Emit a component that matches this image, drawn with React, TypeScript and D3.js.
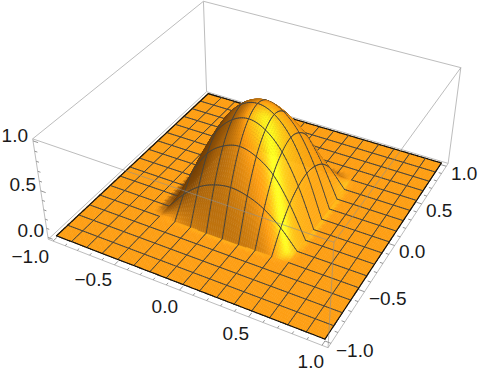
import React, { useMemo } from "react";
import * as d3 from "d3";

// mesh heights, on the 1/8 grid covering the central bump (|x|,|y| <= 0.5)
const humpHeights = [
  [0, 0, 0, 0, 0, 0, 0, 0, 0],
  [0, 0.19, 0.33, 0.41, 0.44, 0.41, 0.33, 0.19, 0],
  [0, 0.33, 0.58, 0.71, 0.76, 0.71, 0.58, 0.33, 0],
  [0, 0.41, 0.71, 0.88, 0.94, 0.88, 0.71, 0.41, 0],
  [0, 0.44, 0.76, 0.94, 1, 0.94, 0.76, 0.44, 0],
  [0, 0.41, 0.71, 0.88, 0.94, 0.88, 0.71, 0.41, 0],
  [0, 0.33, 0.58, 0.71, 0.76, 0.71, 0.58, 0.33, 0],
  [0, 0.19, 0.33, 0.41, 0.44, 0.41, 0.33, 0.19, 0],
  [0, 0, 0, 0, 0, 0, 0, 0, 0],
];
const xyMajorTicks = [-1, -0.5, 0, 0.5, 1];
const zMajorTicks = [0, 0.5, 1];
const xLabelsAt = [
  { t: "\u22121.0", x: 49, y: 263 },
  { t: "\u22120.5", x: 112, y: 286 },
  { t: "0.0", x: 178, y: 313 },
  { t: "0.5", x: 249, y: 340 },
  { t: "1.0", x: 324, y: 368 },
];
const yLabelsAt = [
  { t: "\u22121.0", x: 336, y: 357 },
  { t: "\u22120.5", x: 369, y: 305 },
  { t: "0.0", x: 399, y: 258 },
  { t: "0.5", x: 426, y: 217 },
  { t: "1.0", x: 451, y: 180 },
];
const zLabelsAt = [
  { t: "0.0", x: 44, y: 237 },
  { t: "0.5", x: 36, y: 191 },
  { t: "1.0", x: 28, y: 142 },
];

// camera calibration: box corners as seen on the page
const B = 1.04;
const Z0 = -0.02;
const Z1 = 1.02;
const calib: [number, number, number, number, number][] = [
  [-B, -B, Z0, 48, 239],
  [B, -B, Z0, 328, 348],
  [B, B, Z0, 448, 163],
  [-B, B, Z0, 207, 92],
  [-B, -B, Z1, 33, 139],
  [B, -B, Z1, 334, 242],
  [B, B, Z1, 461, 68],
  [-B, B, Z1, 203, 1],
];

function solveCamera(): number[] {
  const rows: number[][] = [];
  const rhs: number[] = [];
  for (const [x, y, z, u, v] of calib) {
    rows.push([x, y, z, 1, 0, 0, 0, 0, -u * x, -u * y, -u * z]);
    rhs.push(u);
    rows.push([0, 0, 0, 0, x, y, z, 1, -v * x, -v * y, -v * z]);
    rhs.push(v);
  }
  const n = 11;
  const M: number[][] = d3.range(n).map((i) =>
    d3.range(n + 1).map((j) =>
      j < n ? d3.sum(rows, (r) => r[i] * r[j]) : d3.sum(rows, (r, k) => r[i] * rhs[k])
    )
  );
  for (let c = 0; c < n; c++) {
    let p = c;
    for (let r = c + 1; r < n; r++) if (Math.abs(M[r][c]) > Math.abs(M[p][c])) p = r;
    [M[c], M[p]] = [M[p], M[c]];
    for (let r = 0; r < n; r++) {
      if (r === c) continue;
      const f = M[r][c] / M[c][c];
      for (let k = c; k <= n; k++) M[r][k] -= f * M[c][k];
    }
  }
  return d3.range(n).map((i) => M[i][n] / M[i][i]);
}
const P = solveCamera();
const project = (x: number, y: number, z: number): [number, number] => {
  const w = P[8] * x + P[9] * y + P[10] * z + 1;
  return [
    (P[0] * x + P[1] * y + P[2] * z + P[3]) / w,
    (P[4] * x + P[5] * y + P[6] * z + P[7]) / w,
  ];
};

// view basis, in box-ratio coordinates
const V = [0.383, -0.708, 0.59];
const R = [0.877, 0.474, 0];
const U = [-0.28, 0.518, 0.807];
const dot = (a: number[], b: number[]) => a[0] * b[0] + a[1] * b[1] + a[2] * b[2];
const depth = (x: number, y: number, z: number) => dot(V, [x / 2, y / 2, 0.4 * z]);

const cr = (a: number, b: number, c: number, d: number, t: number) =>
  0.5 * (2 * b + (c - a) * t + (2 * a - 5 * b + 4 * c - d) * t * t + (3 * b - a - 3 * c + d) * t * t * t);
const node = (i: number, j: number): number => {
  if (i < 0) return -node(-i, j);
  if (i > 8) return -node(16 - i, j);
  if (j < 0) return -node(i, -j);
  if (j > 8) return -node(i, 16 - j);
  return humpHeights[i][j];
};
const cellOf = d3.scaleLinear().domain([-0.5, 0.5]).range([0, 8]);
function height(x: number, y: number): number {
  if (Math.abs(x) >= 0.5 || Math.abs(y) >= 0.5) return 0;
  const u = cellOf(x);
  const v = cellOf(y);
  const i = Math.min(7, Math.floor(u));
  const j = Math.min(7, Math.floor(v));
  const t = u - i;
  const s = v - j;
  const col = [-1, 0, 1, 2].map((di) =>
    cr(node(i + di, j - 1), node(i + di, j), node(i + di, j + 1), node(i + di, j + 2), s)
  );
  return cr(col[0], col[1], col[2], col[3], t);
}

const norm = (a: number[]) => {
  const l = Math.hypot(a[0], a[1], a[2]);
  return a.map((c) => c / l);
};
const L1 = norm([1.5, -0.5, 2]);
const L2 = norm([1.5, 1.5, 2]);
const L3 = norm([-0.5, 1.5, 2]);
const H1 = norm([L1[0], L1[1], L1[2] + 1]);
const H2 = norm([L2[0], L2[1], L2[2] + 1]);
const H3 = norm([L3[0], L3[1], L3[2] + 1]);

const clampIn = (v: number) => Math.max(-0.49, Math.min(0.49, v));
function slopes(x: number, y: number): [number, number] {
  const h = 0.006;
  const cx = clampIn(x), cy = clampIn(y);
  const zx = (height(cx + h, cy) - height(cx - h, cy)) / (2 * h);
  const zy = (height(cx, cy + h) - height(cx, cy - h)) / (2 * h);
  return [zx, zy];
}
function shade(x: number, y: number): string {
  let [zx, zy] = slopes(x, y);
  const dx = Math.abs(x) - 0.5;
  const dy = Math.abs(y) - 0.5;
  const d = Math.max(dx, dy);
  if (d >= 0) {
    // the flat sheet picks up the bump's shading in a frayed rim just outside its foot
    const darkSide = (dx > dy && x < 0) || (dy >= dx && y > 0);
    const along = dx > dy ? y : x;
    const fray = Math.abs(((along * 24) % 1 + 1) % 1 - 0.5) * 2;
    const w = (darkSide ? 0.05 : 0.032) + 0.022 * fray;
    const t = d < w ? (darkSide ? 0.55 : 0.15) * (1 - (d / w) * (d / w)) : 0;
    zx *= t;
    zy *= t;
  }
  const n = norm([-0.8 * zx, -0.8 * zy, 1]);
  const nv = [dot(R, n), dot(U, n), dot(V, n)];
  const D =
    0.28 +
    0.42 * Math.max(0, dot(nv, L1)) +
    0.37 * Math.max(0, dot(nv, L2)) +
    0.3 * Math.max(0, dot(nv, L3));
  const sp =
    0.5 * Math.pow(Math.max(0, dot(nv, H1)), 30) +
    0.28 * Math.pow(Math.max(0, dot(nv, H2)), 30) +
    0.18 * Math.pow(Math.max(0, dot(nv, H3)), 30);
  const r = D * 1.0 + sp;
  const g = Math.pow(D, 1.15) * 0.625 + sp * 0.55;
  const b = Math.pow(D, 1.3) * 0.075 + sp * 0.1;
  const c = (v: number) => Math.round(255 * Math.min(1, Math.max(0, v)));
  return `rgb(${c(r)},${c(g)},${c(b)})`;
}

const SUB = 8;
const fine = d3.scaleLinear().domain([0, 16 * SUB]).range([-1, 1]);

type Item = { d: string; key: number; fill?: string; stroke?: string; w?: number };
const seg = (pts: [number, number, number][]) => {
  const p = d3.path();
  pts.forEach((q, i) => {
    const [a, b] = project(q[0], q[1], q[2]);
    if (i === 0) p.moveTo(a, b);
    else p.lineTo(a, b);
  });
  return p;
};
const onFoot = (line: number, mid: number) => Math.abs(Math.abs(line) - 0.5) < 1e-6 && Math.abs(mid) < 0.5;

function buildSurface(): Item[] {
  const items: Item[] = [];
  const N = 16 * SUB;
  for (let i = 0; i < N; i++) {
    for (let j = 0; j < N; j++) {
      const x0 = fine(i), x1 = fine(i + 1), y0 = fine(j), y1 = fine(j + 1);
      const p = seg([
        [x0, y0, height(x0, y0)],
        [x1, y0, height(x1, y0)],
        [x1, y1, height(x1, y1)],
        [x0, y1, height(x0, y1)],
      ]);
      p.closePath();
      const mx = (x0 + x1) / 2, my = (y0 + y1) / 2;
      const col = shade(mx, my);
      items.push({ d: p.toString(), key: depth(mx, my, height(mx, my)), fill: col, stroke: col, w: 0.6 });
      if (i % SUB === 0 && !onFoot(x0, my)) {
        const edge = i === 0;
        items.push({
          d: seg([[x0, y0, height(x0, y0)], [x0, y1, height(x0, y1)]]).toString(),
          key: depth(x0, my, height(x0, my)) + 0.012,
          stroke: edge ? "#111" : "#47433c",
          w: edge ? 1.1 : 0.95,
        });
      }
      if (j % SUB === 0 && !onFoot(y0, mx)) {
        const edge = j === 0;
        items.push({
          d: seg([[x0, y0, height(x0, y0)], [x1, y0, height(x1, y0)]]).toString(),
          key: depth(mx, y0, height(mx, y0)) + 0.012,
          stroke: edge ? "#111" : "#47433c",
          w: edge ? 1.1 : 0.95,
        });
      }
      if (i === N - 1) {
        items.push({
          d: seg([[x1, y0, height(x1, y0)], [x1, y1, height(x1, y1)]]).toString(),
          key: depth(x1, my, 0) + 0.012,
          stroke: "#111",
          w: 1.1,
        });
      }
      if (j === N - 1) {
        items.push({
          d: seg([[x0, y1, height(x0, y1)], [x1, y1, height(x1, y1)]]).toString(),
          key: depth(mx, y1, 0) + 0.012,
          stroke: "#111",
          w: 1.1,
        });
      }
    }
  }
  items.sort((a, b) => a.key - b.key);
  return items;
}

const line3 = (a: [number, number, number], b: [number, number, number]) => seg([a, b]).toString();

export default function App() {
  const surface = useMemo(buildSurface, []);
  const A = [-B, -B], Bb = [B, -B], C = [B, B], D = [-B, B];
  const backEdges = [
    line3([D[0], D[1], Z0], [D[0], D[1], Z1]),
    line3([D[0], D[1], Z1], [A[0], A[1], Z1]),
    line3([D[0], D[1], Z1], [C[0], C[1], Z1]),
    line3([A[0], A[1], Z0], [D[0], D[1], Z0]),
    line3([D[0], D[1], Z0], [C[0], C[1], Z0]),
    line3([C[0], C[1], Z0], [C[0], C[1], Z1]),
    line3([A[0], A[1], Z0], [A[0], A[1], Z1]),
    line3([A[0], A[1], Z0], [Bb[0], Bb[1], Z0]),
    line3([Bb[0], Bb[1], Z0], [C[0], C[1], Z0]),
  ];
  const frontEdges = [
    line3([A[0], A[1], Z1], [Bb[0], Bb[1], Z1]),
    line3([Bb[0], Bb[1], Z1], [C[0], C[1], Z1]),
    line3([Bb[0], Bb[1], Z0], [Bb[0], Bb[1], Z1]),
  ];
  const minorXY = d3.range(-10, 11).map((k) => k / 10);
  const minorZ = d3.range(0, 11).map((k) => k / 10);
  const isMajor = (v: number, list: number[]) => list.some((m) => Math.abs(m - v) < 1e-6);
  const ticks: string[] = [];
  minorXY.forEach((v) => {
    const len = isMajor(v, xyMajorTicks) ? 0.04 : 0.022;
    ticks.push(line3([v, -B, Z0], [v, -B + len, Z0]));
    ticks.push(line3([B, v, Z0], [B - len, v, Z0]));
  });
  minorZ.forEach((v) => {
    const len = isMajor(v, zMajorTicks) ? 0.04 : 0.022;
    ticks.push(line3([-B, -B, v], [-B + len, -B, v]));
  });
  const font: React.CSSProperties = { fontFamily: "'Liberation Sans', Arial, sans-serif", fontSize: 19, fill: "#1a1a1a" };
  return (
    <svg width={482} height={377} style={{ position: "absolute", left: 0, top: 0, background: "#fff" }}>
      {backEdges.map((d, i) => (
        <path key={i} d={d} fill="none" stroke="#bdbdbd" strokeWidth={1} />
      ))}
      {ticks.map((d, i) => (
        <path key={i} d={d} fill="none" stroke="#8a8a8a" strokeWidth={0.9} />
      ))}
      <g strokeLinecap="round">
        {surface.map((it, i) => (
          <path key={i} d={it.d} fill={it.fill ?? "none"} stroke={it.stroke} strokeWidth={it.w} />
        ))}
      </g>
      {frontEdges.map((d, i) => (
        <path key={i} d={d} fill="none" stroke="#8f8f8f" strokeOpacity={0.6} strokeWidth={1} />
      ))}
      {xLabelsAt.map((l) => (
        <text key={l.t} x={l.x} y={l.y} textAnchor="end" style={font}>
          {l.t}
        </text>
      ))}
      {yLabelsAt.map((l) => (
        <text key={l.t} x={l.x} y={l.y} textAnchor="start" style={font}>
          {l.t}
        </text>
      ))}
      {zLabelsAt.map((l) => (
        <text key={l.t} x={l.x} y={l.y} textAnchor="end" style={font}>
          {l.t}
        </text>
      ))}
    </svg>
  );
}
